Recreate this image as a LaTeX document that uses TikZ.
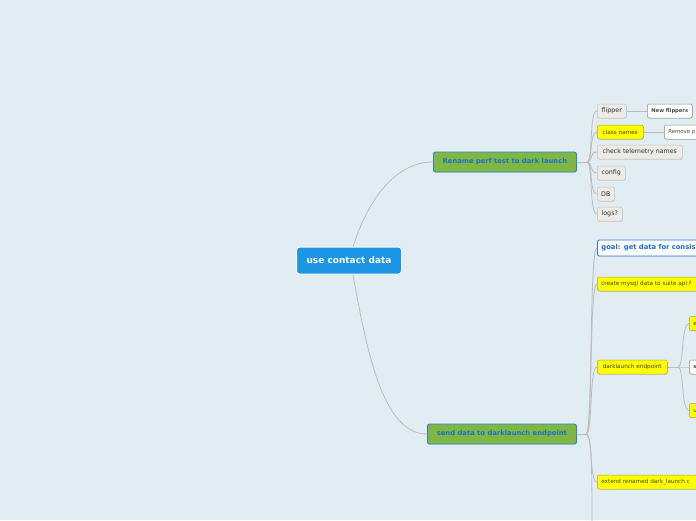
\documentclass[tikz,border=0pt]{standalone}
\usepackage{fontspec}
\setmainfont{DejaVu Sans}
\usetikzlibrary{shadows}
\definecolor{bgc}{HTML}{E2ECF3}
\definecolor{rootc}{HTML}{1B96E4}
\definecolor{greenc}{HTML}{7EB843}
\definecolor{bbord}{HTML}{2A7FD4}
\definecolor{btext}{HTML}{1F6ED4}
\definecolor{grayf}{HTML}{EDEBE6}
\definecolor{grayb}{HTML}{C4C1BA}
\definecolor{yelf}{HTML}{FFFF00}
\definecolor{yelb}{HTML}{A8A830}
\definecolor{yelt}{HTML}{444400}
\definecolor{wgb}{HTML}{7A9A7A}
\definecolor{wgt}{HTML}{405040}
\definecolor{linec}{HTML}{BBBBBB}
\definecolor{darkt}{HTML}{333333}
\tikzset{
  base/.style={rounded corners=2pt, inner sep=0pt, anchor=west, drop shadow={opacity=0.18, shadow xshift=0.6pt, shadow yshift=-0.9pt}},
  rootbox/.style={base, fill=rootc, draw=white, line width=1pt, text=white, font=\fontsize{9}{10}\selectfont\bfseries, rounded corners=3pt},
  branchbox/.style={base, fill=greenc, draw=bbord, line width=0.8pt, text=btext, font=\fontsize{6.8}{8}\selectfont\bfseries},
  graybox/.style={base, fill=grayf, draw=grayb, line width=0.5pt, text=darkt, font=\fontsize{6.3}{8}\selectfont},
  yelbox/.style={base, fill=yelf, draw=yelb, line width=0.5pt, text=yelt, font=\fontsize{5.7}{7}\selectfont},
  whitebox/.style={base, fill=white, draw=wgb, line width=0.5pt, text=wgt, font=\fontsize{5.2}{7}\selectfont\bfseries},
  goalbox/.style={base, fill=white, draw=bbord, line width=0.8pt, text=btext, font=\fontsize{6.8}{8}\selectfont\bfseries},
  cutbox/.style={text width=#1, align=left, inner xsep=4pt},
  conn/.style={draw=linec, line width=0.8pt},
}
\begin{document}
\begin{tikzpicture}[x=1pt,y=-1pt]
\fill[bgc] (0,0) rectangle (696,520);
\useasboundingbox (0,0) rectangle (696,520);
\clip (0,0) rectangle (696,520);

% root and main branches
\node[rootbox, minimum width=105pt, minimum height=27pt] (root) at (296,260.5) {use contact data};
\node[branchbox, minimum width=143pt, minimum height=20pt] (b1) at (433,162) {Rename perf test to dark launch};
\node[branchbox, minimum width=149pt, minimum height=20pt] (b2) at (427,434) {send data to darklaunch endpoint};

% branch 1 children
\node[graybox, minimum width=29pt, minimum height=14pt] (flip) at (597,111) {flipper};
\node[yelbox, minimum width=46pt, minimum height=14pt] (cls) at (597,132) {class names};
\node[graybox, minimum width=85pt, minimum height=14pt] (tele) at (597,152) {check telemetry names};
\node[graybox, minimum width=28pt, minimum height=14pt] (conf) at (597,173) {config};
\node[graybox, minimum width=17pt, minimum height=14pt] (db) at (597,194) {DB};
\node[graybox, minimum width=25pt, minimum height=14pt] (logs) at (597,214) {logs?};
\node[whitebox, minimum width=45pt, minimum height=14pt] (newf) at (647,111) {New flippers};
\node[whitebox, cutbox=60pt, minimum height=14pt, font=\fontsize{5.4}{7}\selectfont] (rem) at (664,132) {Remove p};

% branch 2 children
\node[goalbox, cutbox=140pt, minimum height=16pt] (goal) at (597,248) {goal: get data for consis};
\node[yelbox, cutbox=140pt, minimum height=14pt] (mysql) at (597,284) {create mysql data to suite api f};
\node[yelbox, minimum width=70pt, minimum height=14pt] (dle) at (597,367) {darklaunch endpoint};
\node[yelbox, cutbox=140pt, minimum height=14pt] (ext) at (597,482) {extend renamed dark\_launch c};
\coordinate (down) at (592,540);

% darklaunch endpoint children
\node[yelbox, cutbox=40pt, minimum height=14pt] (d1) at (689,323.5) {e};
\node[whitebox, cutbox=40pt, minimum height=14pt] (d2) at (689,367) {s};
\node[yelbox, cutbox=40pt, minimum height=14pt] (d3) at (689,410.5) {u};

% connectors root
\draw[conn] ([xshift=4pt]root.north) .. controls (368,200) and (395,162) .. (b1.west);
\draw[conn] ([xshift=4pt]root.south) .. controls (368,360) and (385,434) .. (b2.west);

% branch 1 connectors
\coordinate (j1) at (587,162);
\draw[conn] (b1.east) -- (j1);
\foreach \n in {flip,cls,tele,conf,db,logs}{
  \draw[conn] (j1) .. controls (593,162) and (589,0 |- \n.west) .. (\n.west);
}
\draw[conn] (flip.east) -- (newf.west);
\draw[conn] (cls.east) -- (rem.west);

% branch 2 connectors
\coordinate (j2) at (586,434);
\draw[conn] (b2.east) -- (j2);
\foreach \n in {goal,mysql,dle,ext}{
  \draw[conn] (j2) .. controls (593,434) and (589,0 |- \n.west) .. (\n.west);
}
\draw[conn] (j2) .. controls (592,434) and (592,470) .. (down);

% darklaunch endpoint connectors
\coordinate (j3) at (678,367);
\draw[conn] (dle.east) -- (j3);
\foreach \n in {d1,d2,d3}{
  \draw[conn] (j3) .. controls (684,367) and (681,0 |- \n.west) .. (\n.west);
}
\end{tikzpicture}
\end{document}
